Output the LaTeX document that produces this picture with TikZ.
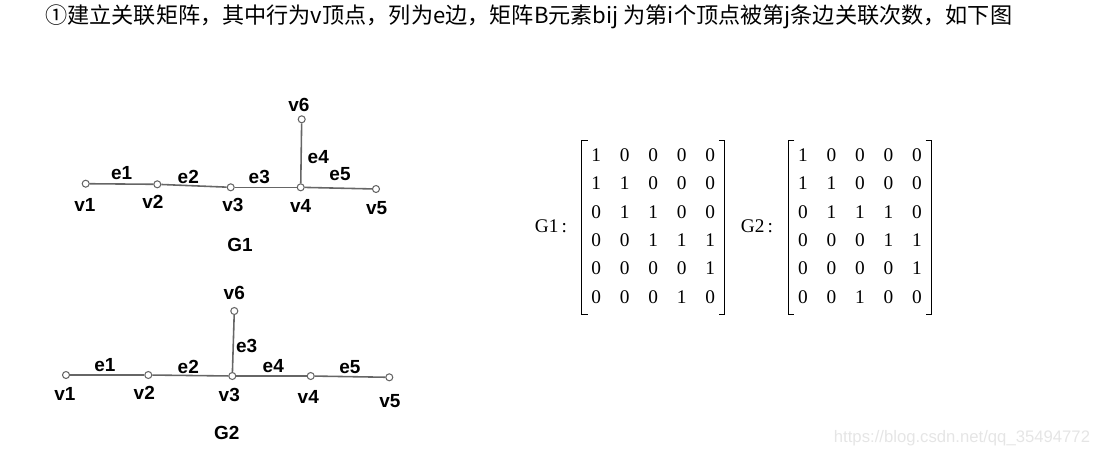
\documentclass[tikz,border=0pt]{standalone}
\usepackage{fontspec}
\setmainfont{Liberation Serif}
\setsansfont{Liberation Sans}
\newfontfamily\cjk{Noto Sans CJK SC}
\usetikzlibrary{matrix,positioning}
\tikzset{
  vtx/.style={circle,draw=black!60,fill=white,line width=0.6pt,inner sep=0pt,minimum size=0.14cm},
  edge/.style={draw=black!60,line width=0.9pt},
  lbl/.style={font=\sffamily\bfseries\fontsize{10.8}{12}\selectfont,inner sep=0pt},
  mat/.style={matrix of nodes,inner sep=0pt,
    nodes={minimum width=0.57cm,minimum height=0.566cm,inner sep=0pt,font=\fontsize{11}{13}\selectfont},
    column sep=0pt,row sep=0pt},
  brk/.style={line width=0.6pt}
}
\begin{document}
\begin{tikzpicture}[x=0.02cm,y=-0.02cm]
    \useasboundingbox (0,0) rectangle (1093,458);
    % title line
    \node[anchor=west,inner sep=0pt,font=\cjk\fontsize{12.6}{14}\selectfont] (title) at (45,17)
      {①建立关联矩阵，其中行为v顶点，列为e边，矩阵B元素bij 为第i个顶点被第j条边关联次数，如下图};

    % G1 vertices
    \foreach \n/\x/\y in {1/85.7/183.7, 2/157.3/184.3, 3/230.7/187.3, 4/300.7/187.3, 5/376/189, 6/301.7/119.3} {
        \node[vtx] (a\n) at (\x,\y) {};
      }
    \foreach \n/\x/\y in {1/85/205, 2/153/202, 3/233/205, 4/300.7/206, 5/376.7/208, 6/299/105} {
        \node[lbl] (av\n) at (\x,\y) {v\n};
      }
    % G1 edges
    \foreach \i/\j/\n/\x/\y in {1/2/1/121.7/172.7, 2/3/2/188.3/176.7, 3/4/3/259.3/176.7, 4/6/4/318.3/156.7, 4/5/5/340/174} {
        \draw[edge] (a\i) -- (a\j);
        \node[lbl] (ae\n) at (\x,\y) {e\n};
      }
    \node[lbl] (g1) at (240,245) {G1};

    % G2 vertices
    \foreach \n/\x/\y in {1/66/375, 2/148.3/375, 3/232.3/376, 4/310.7/376, 5/389.3/377.3, 6/234.3/311} {
        \node[vtx] (b\n) at (\x,\y) {};
      }
    \foreach \n/\x/\y in {1/65/394, 2/144.3/393.3, 3/229.3/395, 4/308.3/396.7, 5/390/400.7, 6/234.3/292.7} {
        \node[lbl] (bv\n) at (\x,\y) {v\n};
      }
    % G2 edges
    \foreach \i/\j/\n/\x/\y in {1/2/1/105/365, 2/3/2/188.3/366.7, 3/6/3/246.7/346, 3/4/4/273.3/365.7, 4/5/5/350/366.7} {
        \draw[edge] (b\i) -- (b\j);
        \node[lbl] (be\n) at (\x,\y) {e\n};
      }
    \node[lbl] (g2) at (226.7,433.3) {G2};

    % incidence matrices
    \node[font=\fontsize{11}{13}\selectfont,inner sep=0pt] (m1lab) at (551,226) {G1\,:};
    \matrix (m1) [mat] at (653.3,226) {
      1 & 0 & 0 & 0 & 0 \\
      1 & 1 & 0 & 0 & 0 \\
      0 & 1 & 1 & 0 & 0 \\
      0 & 0 & 1 & 1 & 1 \\
      0 & 0 & 0 & 0 & 1 \\
      0 & 0 & 0 & 1 & 0 \\
    };
    \node[font=\fontsize{11}{13}\selectfont,inner sep=0pt] (m2lab) at (757,226) {G2\,:};
    \matrix (m2) [mat] at (860,226) {
      1 & 0 & 0 & 0 & 0 \\
      1 & 1 & 0 & 0 & 0 \\
      0 & 1 & 1 & 1 & 0 \\
      0 & 0 & 0 & 1 & 1 \\
      0 & 0 & 0 & 0 & 1 \\
      0 & 0 & 1 & 0 & 0 \\
    };
    % brackets
    \foreach \m in {m1,m2} {
        \draw[brk] ([xshift=0.12cm]\m.north west) -- (\m.north west) -- ([yshift=-0.06cm]\m.south west) -- ([xshift=0.12cm,yshift=-0.06cm]\m.south west);
        \draw[brk] ([xshift=-0.12cm]\m.north east) -- (\m.north east) -- ([yshift=-0.06cm]\m.south east) -- ([xshift=-0.12cm,yshift=-0.06cm]\m.south east);
      }

    % watermark
    \node[font=\sffamily\fontsize{9.5}{11}\selectfont,text=black!10,inner sep=0pt] (wm) at (962,438) {https://blog.csdn.net/qq\_35494772};
  \end{tikzpicture}
\end{document}
